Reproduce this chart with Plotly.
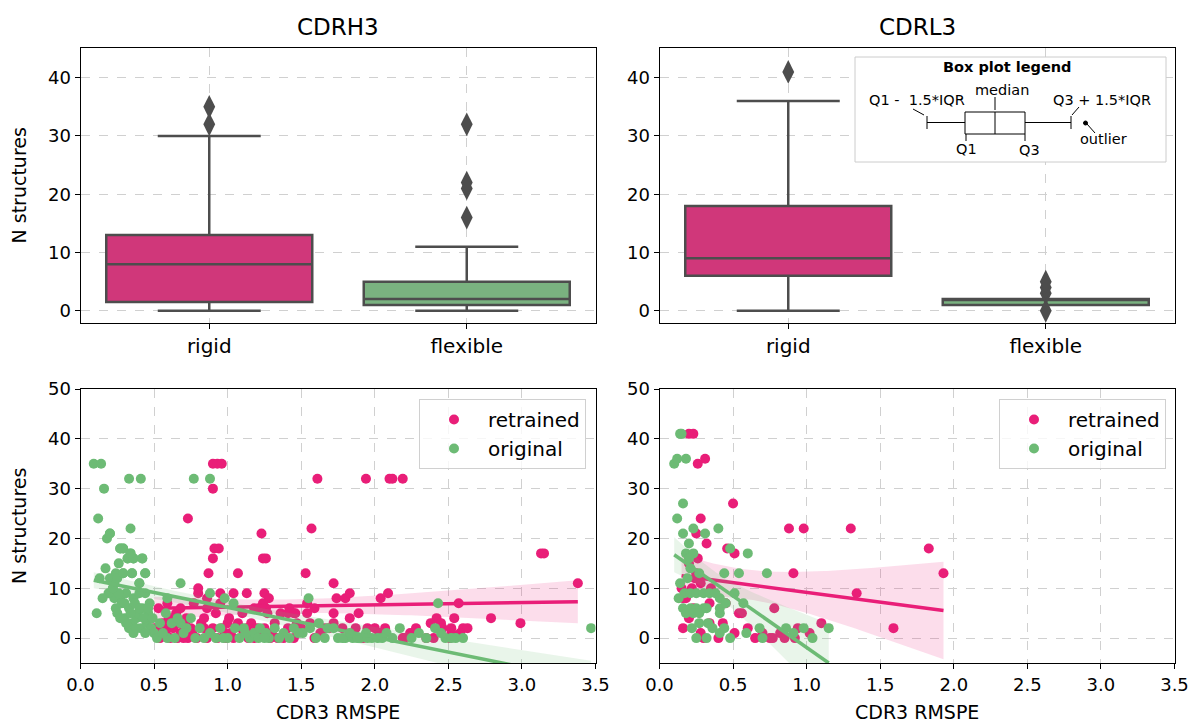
import numpy as np
import plotly.graph_objects as go

W, H = 1190, 725
def px(x): return x / W
def py(y): return 1 - y / H

PINK = "#e91e78"
GREEN = "#6dbb75"
PINK_BOX = "#d0377a"
GREEN_BOX = "#7ab280"
GRAY = "#4d4d4d"
FONT = "DejaVu Sans"

# ---------------- box plot data (top row) ----------------
box_categories = ["rigid", "flexible"]
h3_q1 = [1.5, 1]
h3_median = [8, 2]
h3_q3 = [13, 5]
h3_lowerfence = [0, 0]
h3_upperfence = [30, 11]
h3_outliers_rigid = [32, 35]
h3_outliers_flexible = [16, 21, 22, 32]

l3_q1 = [6, 1]
l3_median = [9, 2]
l3_q3 = [18, 2]
l3_lowerfence = [0, 1]
l3_upperfence = [36, 2]
l3_outliers_rigid = [41]
l3_outliers_flexible = [0, 3, 4, 5]

# ---------------- scatter data (bottom row) ----------------
# CDRH3 - original (several structures share identical values, hence repeats)
h3_orig_x = [0.09, 0.14, 0.16, 0.33, 0.41, 0.77, 0.88, 0.12, 0.20, 0.34, 0.27, 0.29, 0.34, 0.32, 0.36, 0.42,
             0.29, 0.35, 0.44, 0.40, 0.68, 0.22, 0.11,
             0.21, 0.23, 0.27, 0.31, 0.36, 0.40, 0.44, 0.24, 0.28, 0.33, 0.37, 0.42, 0.46, 0.25, 0.30, 0.35,
             0.38, 0.41, 0.45, 0.48, 0.50, 0.33, 0.36, 0.39, 0.43, 0.47, 0.26, 0.30, 0.34, 0.38, 0.44, 0.40,
             0.46, 0.49, 0.31, 0.27, 0.18, 0.24, 0.26, 0.20,
             0.13, 0.17, 0.23, 0.19, 0.15, 0.25,
             0.27, 0.29, 0.32, 0.36, 0.42, 0.29, 0.35, 0.44, 0.22, 0.40, 0.20, 0.34,
             0.59, 0.88, 0.98, 1.04, 1.55, 2.43,
             0.52, 0.59, 0.54, 0.62, 0.68, 0.72, 0.78, 0.84, 0.88, 0.95, 1.00, 1.05, 1.11, 1.15, 1.18, 1.22,
             1.26, 1.32, 1.38, 1.45, 1.51, 1.56, 1.62, 1.68, 1.72, 0.58, 0.66, 0.75, 0.56, 0.64, 0.70, 0.81,
             0.92, 1.08, 1.21, 1.28, 1.35, 0.97, 1.12, 1.25, 1.42, 1.48, 1.60, 1.66, 1.75, 1.94, 2.02,
             1.80, 1.85, 1.90, 1.98, 2.08, 2.17, 2.41, 2.48, 2.55, 3.47,
             1.78, 1.83, 1.88, 1.95, 2.05, 2.12, 2.25, 2.30, 2.35, 2.45, 2.52, 2.60]
h3_orig_y = [35, 35, 30, 32, 32, 32, 32, 24, 21, 22, 18, 18, 17, 16, 16, 16,
             13, 13, 13, 11, 11, 10, 5,
             9, 8, 8, 9, 8, 9, 9, 6, 7, 6, 7, 6, 5, 5, 4, 3,
             4, 2, 3, 2, 1, 2, 1, 5, 4, 7, 9, 7, 5, 2, 1, 6,
             6, 4, 3, 4, 20, 13, 15, 12,
             12, 14, 11, 9, 8, 12,
             18, 18, 16, 16, 16, 13, 13, 13, 10, 11, 21, 17,
             8, 9, 8, 7, 8, 7,
             0, 0, 3, 3, 3, 2, 0, 0, 1, 2, 0, 2, 2, 0, 1, 2,
             1, 2, 1, 2, 1, 2, 3, 2, 2, 5, 4, 4, 1, 0, 1, 2,
             0, 0, 0, 0, 0, 0, 1, 0, 0, 1, 0, 0, 0, 1, 0,
             0, 0, 0, 0, 1, 2, 2, 0, 0, 2,
             0, 1, 0, 0, 0, 0, 0, 1, 0, 1, 0, 0]

# CDRH3 - retrained
h3_retr_x = [0.90, 0.93, 0.96, 0.90, 1.61, 1.94, 2.10, 2.12, 2.19, 0.73, 1.57, 1.23, 0.91, 0.94, 0.90, 1.24,
             1.26, 3.13, 3.15, 0.87, 1.07, 1.53, 1.72, 3.38,
             0.80, 0.80, 0.86, 0.95, 1.04, 1.13, 1.25, 1.28, 0.53, 0.59, 0.68, 0.77, 0.86, 0.95, 1.18, 1.24,
             1.27, 1.36, 1.45, 1.54, 1.42, 1.54, 1.59, 1.74, 1.80, 1.83, 1.72, 1.83, 1.89, 2.04, 2.09, 2.57,
             2.42, 2.45, 2.38, 2.54, 2.79, 2.99, 1.21, 1.26, 1.41, 1.46,
             0.54, 0.61, 0.68, 0.73, 0.79, 0.86, 0.93, 0.98, 1.04, 1.11, 1.18, 1.25, 1.29, 1.34, 1.38, 1.45,
             1.50, 1.59, 1.63, 0.56, 0.66, 0.75, 0.82, 0.90, 1.00, 1.07, 1.16, 1.22, 1.32, 1.41, 1.47, 1.56,
             1.66, 1.72, 1.69, 1.78, 1.87, 1.95, 2.00, 2.07, 2.19, 2.46, 2.52, 2.60, 2.63, 2.52, 2.20, 2.51,
             0.50, 0.52, 0.58, 0.63, 0.70, 0.71, 0.76, 0.84, 0.88, 0.96, 1.02, 1.09, 1.14, 1.20, 0.60, 0.65,
             0.72, 0.84, 0.92, 1.01, 1.10, 0.57, 0.66, 0.99, 1.13, 1.30,
             1.92, 2.03, 2.28, 2.35, 2.58, 2.24, 2.40]
h3_retr_y = [35, 35, 35, 30, 32, 32, 32, 32, 32, 24, 22, 21, 18, 18, 16, 16,
             16, 17, 17, 13, 13, 13, 11, 11,
             10, 9, 8, 9, 9, 9, 9, 8, 6, 7, 6, 7, 6, 7, 6, 7,
             5, 5, 5, 5, 6, 7, 6, 8, 8, 9, 5, 4, 5, 8, 9, 7,
             4, 3, 3, 4, 4, 3, 6, 6, 5, 5,
             0, 0, 1, 0, 0, 0, 0, 1, 0, 1, 0, 2, 0, 0, 0, 0,
             2, 0, 1, 3, 3, 2, 3, 2, 3, 3, 3, 1, 3, 2, 3, 3,
             2, 3, 2, 2, 2, 2, 2, 2, 0, 2, 1, 2, 2, 2, 0, 0,
             2, 2, 1, 2, 0, 3, 1, 2, 1, 2, 1, 2, 0, 2, 4, 5,
             4, 4, 5, 4, 5, 2, 0, 0, 2, 1,
             0, 1, 2, 0, 1, 1, 0]

# CDRL3 - retrained
l3_retr_x = [0.20, 0.23, 0.26, 0.31, 0.50, 0.28, 0.88, 0.98, 1.30, 0.25, 0.32, 0.46, 0.51, 0.26, 0.91, 1.34,
             1.59, 0.78, 1.10, 0.94, 0.82, 0.75, 0.54, 0.56, 0.45, 0.16, 1.83, 1.93, 0.16, 0.18, 0.34, 0.23,
             0.43, 0.51, 0.60, 0.70, 0.77, 0.30, 0.34, 0.25, 0.22, 0.20, 0.28, 0.40, 0.15,
             0.20, 0.24, 0.28, 0.35, 0.65, 0.85, 0.92, 1.02]
l3_retr_y = [41, 41, 35, 36, 27, 24, 22, 22, 22, 21, 19, 18, 17, 16, 13, 9,
             2, 6, 3, 2, 1, 0, 5, 5, 7, 2, 18, 13, 8, 8, 7, 6,
             3, 1, 2, 1, 0, 0, 3, 13, 10, 4, 1, 0, 10,
             15, 12, 11, 10, 0, 0, 0, 1]

# CDRL3 - original
l3_orig_x = [0.14, 0.15, 0.10, 0.12, 0.18, 0.16, 0.12, 0.23, 0.40, 0.16, 0.31, 0.20, 0.48, 0.60, 0.18, 0.23,
             0.20, 0.27, 0.44, 0.54, 0.73, 1.15, 1.04, 0.98, 0.91, 0.86, 0.68, 0.70, 0.59, 0.57, 0.51, 0.41,
             0.14, 0.17, 0.21, 0.25, 0.30, 0.34, 0.41, 0.16, 0.21, 0.25, 0.30, 0.18, 0.23, 0.27, 0.32, 0.41,
             0.22, 0.25, 0.32, 0.36, 0.41, 0.44, 0.48, 0.27, 0.33, 0.19, 0.21, 0.13, 0.38, 0.45]
l3_orig_y = [41, 41, 35, 36, 36, 27, 24, 22, 22, 21, 21, 19, 18, 17, 17, 17,
             16, 13, 13, 13, 13, 2, 0, 2, 1, 2, 2, 0, 1, 7, 9, 6,
             11, 9, 9, 9, 9, 9, 8, 6, 6, 6, 6, 5, 5, 5, 6, 5,
             2, 0, 0, 2, 1, 2, 0, 3, 3, 12, 14, 8, 9, 7]

scatter_series = ["retrained", "original"]
x_ticks = [0.0, 0.5, 1.0, 1.5, 2.0, 2.5, 3.0, 3.5]


def regression(x, y):
    x = np.asarray(x, float)
    y = np.asarray(y, float)
    n = len(x)
    b, a = np.polyfit(x, y, 1)
    xs = np.linspace(x.min(), x.max(), 100)
    yh = a + b * xs
    resid = y - (a + b * x)
    s = np.sqrt(np.sum(resid ** 2) / (n - 2))
    sxx = np.sum((x - x.mean()) ** 2)
    se = s * np.sqrt(1.0 / n + (xs - x.mean()) ** 2 / sxx)
    return xs, yh, yh - 1.97 * se, yh + 1.97 * se


fig = go.Figure()

# ---------- top row boxes ----------
def add_boxes(xa, ya, q1, med, q3, lo, hi, out_r, out_f):
    colors = [PINK_BOX, GREEN_BOX]
    for i, cat in enumerate(box_categories):
        fig.add_trace(go.Box(
            x=[cat], q1=[q1[i]], median=[med[i]], q3=[q3[i]],
            lowerfence=[lo[i]], upperfence=[hi[i]],
            fillcolor=colors[i], line=dict(color=GRAY, width=2.5),
            width=0.8, whiskerwidth=0.5, boxpoints=False,
            xaxis=xa, yaxis=ya, showlegend=False, hoverinfo="skip"))
    for cat, vals in zip(box_categories, [out_r, out_f]):
        fig.add_trace(go.Scatter(
            x=[cat] * len(vals), y=vals, mode="markers",
            marker=dict(symbol="diamond-tall", size=17, color=GRAY),
            xaxis=xa, yaxis=ya, showlegend=False, hoverinfo="skip"))

add_boxes("x", "y", h3_q1, h3_median, h3_q3, h3_lowerfence, h3_upperfence,
          h3_outliers_rigid, h3_outliers_flexible)
add_boxes("x2", "y2", l3_q1, l3_median, l3_q3, l3_lowerfence, l3_upperfence,
          l3_outliers_rigid, l3_outliers_flexible)

# ---------- bottom row scatter + regression ----------
def add_scatter(xa, ya, legend, datasets):
    for (name, xv, yv, col, rgba) in datasets:
        xs, yh, lo, hi = regression(xv, yv)
        fig.add_trace(go.Scatter(
            x=list(xs) + list(xs[::-1]), y=list(hi) + list(lo[::-1]),
            fill="toself", fillcolor=rgba, line=dict(width=0), mode="lines",
            xaxis=xa, yaxis=ya, showlegend=False, hoverinfo="skip"))
        fig.add_trace(go.Scatter(
            x=xv, y=yv, mode="markers", name=name,
            marker=dict(size=10, color=col, line=dict(width=0)),
            xaxis=xa, yaxis=ya, legend=legend, showlegend=True))
        fig.add_trace(go.Scatter(
            x=xs, y=yh, mode="lines", line=dict(color=col, width=3.5),
            xaxis=xa, yaxis=ya, showlegend=False, hoverinfo="skip"))

add_scatter("x3", "y3", "legend", [
    (scatter_series[0], h3_retr_x, h3_retr_y, PINK, "rgba(233,30,120,0.15)"),
    (scatter_series[1], h3_orig_x, h3_orig_y, GREEN, "rgba(109,187,117,0.15)"),
])
add_scatter("x4", "y4", "legend2", [
    (scatter_series[0], l3_retr_x, l3_retr_y, PINK, "rgba(233,30,120,0.15)"),
    (scatter_series[1], l3_orig_x, l3_orig_y, GREEN, "rgba(109,187,117,0.15)"),
])

# ---------- axes ----------
XL = [px(80.5), px(595.5)]
XR = [px(659.5), px(1174.5)]
YT = [py(323), py(48)]
YB = [py(663), py(389)]

TICK = 18
common = dict(showline=True, linecolor="black", linewidth=1, mirror=True,
              ticks="outside", ticklen=5, tickcolor="black", tickwidth=1,
              showgrid=True, gridcolor="#d0d0d0", griddash="dash", gridwidth=1,
              zeroline=False, automargin=False,
              tickfont=dict(family=FONT, size=TICK, color="black"))

box_x = dict(common, type="category", range=[-0.5, 1.5],
             tickfont=dict(family=FONT, size=20, color="black"))
box_y = dict(common, range=[-2.1, 45.1], tickvals=[0, 10, 20, 30, 40])
sc_x = dict(common, range=[0, 3.5], tickvals=x_ticks, tickformat=".1f")
sc_y = dict(common, range=[-5, 50], tickvals=[0, 10, 20, 30, 40, 50])

LEG = dict(xanchor="right", yanchor="top",
           bgcolor="rgba(255,255,255,0.8)", bordercolor="#d0d0d0", borderwidth=1,
           font=dict(family=FONT, size=20, color="black"), itemwidth=58, tracegroupgap=0)

fig.update_layout(
    template="none",
    width=W, height=H, margin=dict(l=0, r=0, t=0, b=0),
    paper_bgcolor="white", plot_bgcolor="white",
    font=dict(family=FONT, color="black"),
    boxmode="overlay",
    xaxis=dict(box_x, domain=XL, anchor="y"),
    yaxis=dict(box_y, domain=YT, anchor="x"),
    xaxis2=dict(box_x, domain=XR, anchor="y2"),
    yaxis2=dict(box_y, domain=YT, anchor="x2"),
    xaxis3=dict(sc_x, domain=XL, anchor="y3"),
    yaxis3=dict(sc_y, domain=YB, anchor="x3"),
    xaxis4=dict(sc_x, domain=XR, anchor="y4"),
    yaxis4=dict(sc_y, domain=YB, anchor="x4"),
    legend=dict(LEG, x=px(586), y=py(399)),
    legend2=dict(LEG, x=px(1166), y=py(399)),
)

LAB = 19
ann = [
    dict(text="CDRH3", x=px(338), y=py(27), font=dict(family=FONT, size=23)),
    dict(text="CDRL3", x=px(917), y=py(27), font=dict(family=FONT, size=23)),
    dict(text="N structures", x=px(19), y=py(185.5), textangle=-90, font=dict(family=FONT, size=LAB)),
    dict(text="N structures", x=px(19), y=py(526), textangle=-90, font=dict(family=FONT, size=LAB)),
    dict(text="CDR3 RMSPE", x=px(338), y=py(712), font=dict(family=FONT, size=LAB)),
    dict(text="CDR3 RMSPE", x=px(917), y=py(712), font=dict(family=FONT, size=LAB)),
    # box plot legend inset
    dict(text="<b>Box plot legend</b>", x=px(1007), y=py(67), font=dict(family=FONT, size=14.5)),
    dict(text="median", x=px(1002), y=py(90), font=dict(family=FONT, size=14.5)),
    dict(text="Q1 -  1.5*IQR", x=px(917), y=py(100), font=dict(family=FONT, size=14.5)),
    dict(text="Q3 + 1.5*IQR", x=px(1102), y=py(100), font=dict(family=FONT, size=14.5)),
    dict(text="Q1", x=px(966), y=py(149), font=dict(family=FONT, size=14.5)),
    dict(text="Q3", x=px(1029), y=py(150), font=dict(family=FONT, size=14.5)),
    dict(text="outlier", x=px(1103), y=py(139), font=dict(family=FONT, size=14.5)),
]
for a in ann:
    a.update(xref="paper", yref="paper", showarrow=False, xanchor="center", yanchor="middle")
    a["font"]["color"] = "black"
fig.update_layout(annotations=ann)

def line(x0, y0, x1, y1, w=1):
    return dict(type="line", xref="paper", yref="paper", x0=px(x0), y0=py(y0), x1=px(x1), y1=py(y1),
                line=dict(color="black", width=w))

shapes = [
    dict(type="rect", xref="paper", yref="paper", x0=px(855), y0=py(57), x1=px(1166), y1=py(162),
         line=dict(color="#cccccc", width=1), fillcolor="white"),
    line(927, 116, 927, 129), line(927, 122.5, 965, 122.5),
    dict(type="rect", xref="paper", yref="paper", x0=px(965), y0=py(112), x1=px(1025), y1=py(134),
         line=dict(color="black", width=1), fillcolor="rgba(0,0,0,0)"),
    line(995, 112, 995, 134), line(1025, 122.5, 1071, 122.5), line(1071, 116, 1071, 129),
    line(913, 109, 924, 115), line(995, 97, 995, 110), line(1079, 107, 1072, 115),
    line(966, 134, 966, 141), line(1025, 134, 1025, 141),
    line(1087, 124, 1095, 133),
    dict(type="circle", xref="paper", yref="paper", x0=px(1083.5), y0=py(121), x1=px(1087.5), y1=py(125),
         line=dict(color="black", width=1), fillcolor="black"),
]
for s in shapes:
    s["layer"] = "above"
fig.update_layout(shapes=shapes)

fig.write_html("out.html")
